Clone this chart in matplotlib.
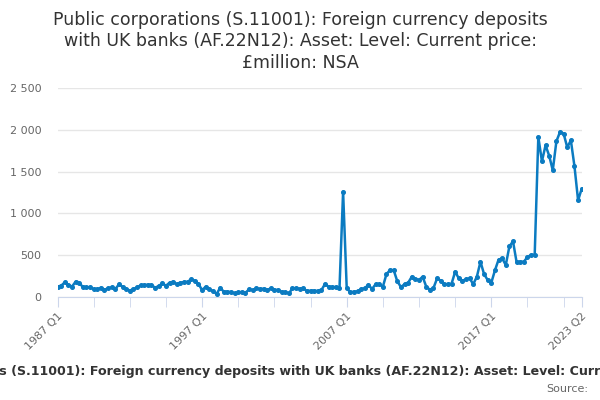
import matplotlib.pyplot as plt
import numpy as np

# quarterly levels, 1987 Q1 .. 2023 Q2 (GBP million)
values = [
    120, 132, 172, 144, 120, 180, 160, 120, 112, 112,
    92, 88, 108, 84, 100, 112, 92, 148, 120, 92,
    72, 92, 112, 136, 140, 144, 140, 108, 128, 160,
    132, 168, 180, 148, 168, 176, 180, 208, 192, 152,
    80, 120, 88, 68, 32, 108, 60, 60, 56, 40,
    52, 56, 48, 88, 80, 100, 92, 96, 80, 100,
    84, 80, 60, 56, 40, 100, 100, 96, 100, 68,
    72, 72, 68, 80, 152, 120, 116, 116, 100, 1260,
    104, 52, 60, 64, 92, 100, 144, 92, 150, 150,
    120, 272, 320, 318, 184, 116, 150, 168, 240, 212,
    200, 240, 120, 84, 104, 220, 192, 150, 150, 155,
    300, 220, 192, 208, 220, 150, 240, 420, 270, 200,
    168, 316, 444, 460, 380, 604, 664, 412, 420, 420,
    476, 500, 504, 1916, 1624, 1816, 1692, 1516, 1864, 1976,
    1956, 1792, 1876, 1564, 1156, 1296,
]
start_year = 1987
labelled = [0, 40, 80, 120, 145]

quarters = [f"{start_year + i // 4} Q{i % 4 + 1}" for i in range(len(values))]
x = np.arange(len(values))

title = ("Public corporations (S.11001): Foreign currency deposits\n"
         "with UK banks (AF.22N12): Asset: Level: Current price:\n"
         "£million: NSA")
series_name = title.replace("\n", " ")

fig = plt.figure(figsize=(6, 4), dpi=100)
ax = fig.add_axes([57.5 / 600, 1 - 296.7 / 400, (581.7 - 57.5) / 600, (296.7 - 88.3) / 400])

ax.plot(x, values, color='#0b7bc1', lw=1.8, marker='o', markersize=2.6, zorder=3)

ax.set_xlim(0, len(values) - 1)
ax.set_ylim(0, 2500)
ax.set_yticks(np.arange(0, 2501, 500))
ax.set_yticklabels([f"{v:,}".replace(",", " ") for v in range(0, 2501, 500)])
ax.grid(axis='y', color='#e6e6e6', lw=1)
ax.set_axisbelow(True)

ax.set_xticks(labelled)
ax.set_xticklabels([quarters[i] for i in labelled], rotation=45, ha='right',
                   rotation_mode='anchor')
ax.set_xticks([i for i in range(0, len(values), 10) if i not in labelled], minor=True)

for side in ['top', 'right', 'left']:
    ax.spines[side].set_visible(False)
ax.spines['bottom'].set_color('#ccd6eb')
ax.tick_params(axis='y', length=0, labelsize=8, labelcolor='#666666', pad=11.5)
ax.tick_params(axis='x', which='both', length=7, color='#ccd6eb', direction='out',
               labelsize=8, labelcolor='#666666', pad=3)

fig.text(0.5, 0.973, title, ha='center', va='top', fontsize=12.5, color='#333333',
         linespacing=1.25)
# legend entry is wider than the chart and gets clipped at both sides
fig.text(0.531, 1 - 372 / 400, series_name, ha='center', va='center',
         fontsize=9.05, fontweight='bold', color='#333333')
fig.text(588 / 600, 1 - 389 / 400, "Source:", ha='right', va='center',
         fontsize=8, color='#666666')

fig.savefig('out.png', dpi=100)
